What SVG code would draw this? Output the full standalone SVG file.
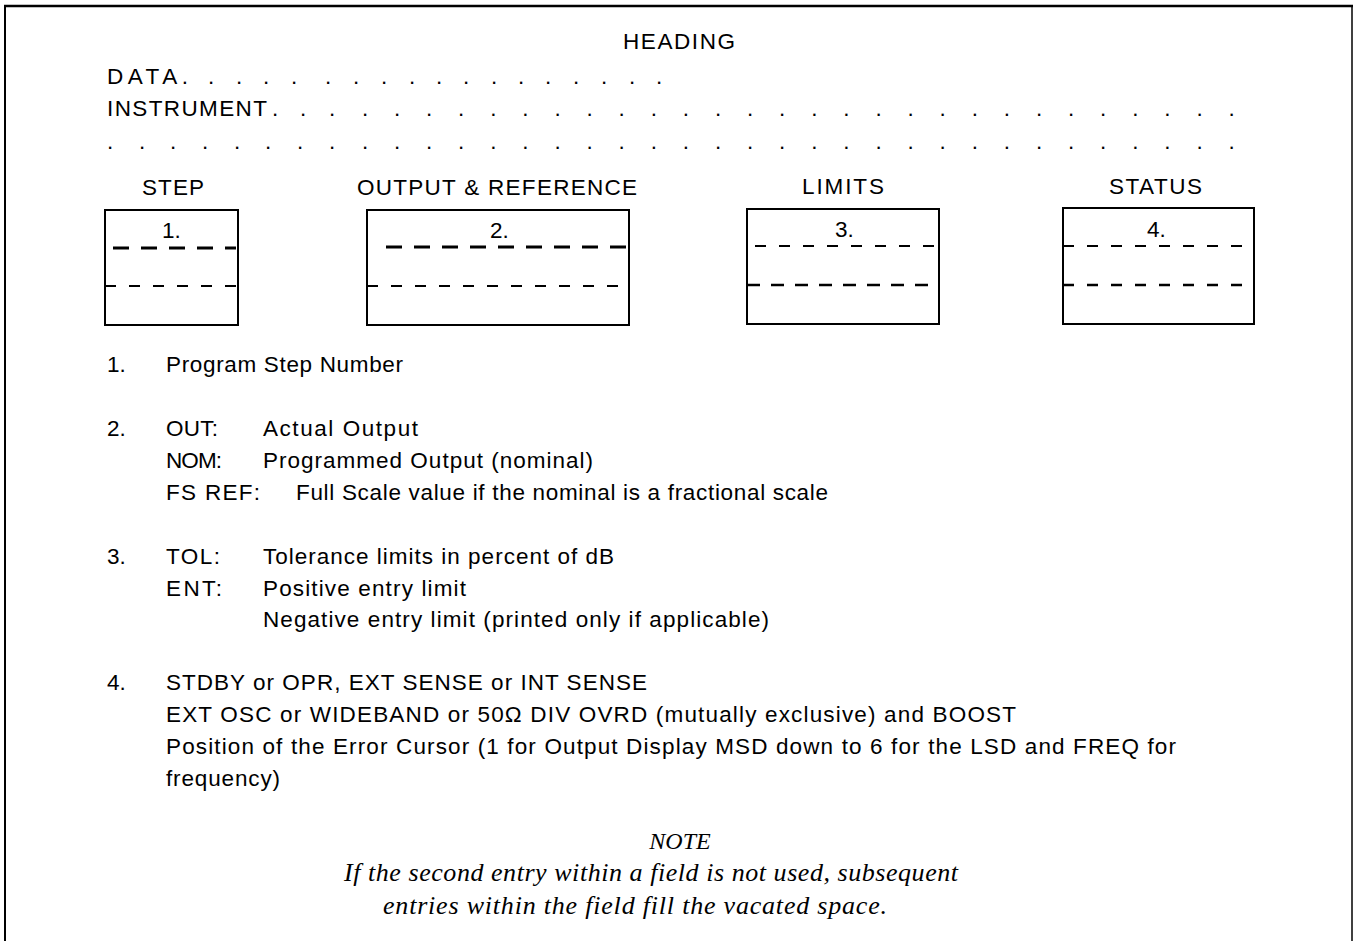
<svg xmlns="http://www.w3.org/2000/svg" width="1354" height="941" viewBox="0 0 1354 941">
<style>
.t{font-family:"Liberation Sans",Arial,sans-serif;font-size:22.5px;fill:#000}
.n{font-family:"Liberation Serif","Times New Roman",serif;font-style:italic;font-size:26px;fill:#000}
.box{fill:none;stroke:#000;stroke-width:2}
.dk{stroke:#000;stroke-width:3;stroke-dasharray:16 12;fill:none}
.dt{stroke:#000;stroke-width:2;stroke-dasharray:11 13;fill:none}
.frame{stroke:#000;fill:none}
</style>
<rect width="1354" height="941" fill="#fff"/>
<g id="frame">
<line class="frame" x1="4" y1="6" x2="1353" y2="6" stroke-width="2.5"/>
<line class="frame" x1="5" y1="5" x2="5" y2="941" stroke-width="2"/>
<line class="frame" x1="1352" y1="5" x2="1352" y2="941" stroke-width="1.5"/>
</g>
<g id="heading">
<text class="t" x="623" y="49" textLength="112">HEADING</text>
<text class="t" x="107" y="84" textLength="81">DATA.</text>
<text class="t" x="208 236 263 291 325 353 381 409 436 463 491 518 545 573 601 629 656" y="84">.................</text>
<text class="t" x="107" y="116" textLength="160">INSTRUMENT</text>
<text class="t" x="272 300 329 362 394 426 458.1 490.2 522.3 554.4 586.5 618.6 650.7 682.8 714.9 747 779.1 811.2 843.3 875.4 907.5 939.6 971.7 1003.8 1035.9 1068 1100.1 1132.2 1164.3 1196.4 1228.5" y="116">...............................</text>
<text class="t" x="107 139 170 202 234 265 297 329 362 394 426 458.1 490.2 522.3 554.4 586.5 618.6 650.7 682.8 714.9 747 779.1 811.2 843.3 875.4 907.5 939.6 971.7 1003.8 1035.9 1068 1100.1 1132.2 1164.3 1196.4 1228.5" y="149">....................................</text>
</g>
<g id="step">
<text class="t" x="142" y="195" textLength="62">STEP</text>
<rect class="box" x="105" y="210" width="133" height="115"/>
<text class="t" x="162" y="238">1.</text>
<line class="dk" x1="113" y1="248" x2="236" y2="248"/>
<line class="dt" x1="105" y1="286" x2="238" y2="286"/>
</g>
<g id="output-reference">
<text class="t" x="357" y="195" textLength="280">OUTPUT &amp; REFERENCE</text>
<rect class="box" x="367" y="210" width="262" height="115"/>
<text class="t" x="490" y="238">2.</text>
<line class="dk" x1="386" y1="247" x2="629" y2="247"/>
<line class="dt" x1="367" y1="286" x2="629" y2="286"/>
</g>
<g id="limits">
<text class="t" x="802" y="194" textLength="82">LIMITS</text>
<rect class="box" x="747" y="209" width="192" height="115"/>
<text class="t" x="835" y="237">3.</text>
<line class="dt" x1="755" y1="246" x2="936" y2="246"/>
<line class="dk" x1="747" y1="285" x2="939" y2="285" style="stroke-width:2.5;stroke-dasharray:13 11"/>
</g>
<g id="status">
<text class="t" x="1109" y="194" textLength="93">STATUS</text>
<rect class="box" x="1063" y="208" width="191" height="116"/>
<text class="t" x="1147" y="237">4.</text>
<line class="dt" x1="1063" y1="246" x2="1254" y2="246"/>
<line class="dt" x1="1063" y1="285" x2="1254" y2="285" style="stroke-width:2.5"/>
</g>
<g id="legend">
<text class="t" x="107" y="372">1.</text>
<text class="t" x="166" y="372" textLength="237">Program Step Number</text>
<text class="t" x="107" y="436">2.</text>
<text class="t" x="166" y="436" textLength="52">OUT:</text>
<text class="t" x="263" y="436" textLength="155">Actual Output</text>
<text class="t" x="166" y="468" textLength="56">NOM:</text>
<text class="t" x="263" y="468" textLength="330">Programmed Output (nominal)</text>
<text class="t" x="166" y="500" textLength="94">FS REF:</text>
<text class="t" x="296" y="500" textLength="532">Full Scale value if the nominal is a fractional scale</text>
<text class="t" x="107" y="564">3.</text>
<text class="t" x="166" y="564" textLength="54">TOL:</text>
<text class="t" x="263" y="564" textLength="351">Tolerance limits in percent of dB</text>
<text class="t" x="166" y="596" textLength="56">ENT:</text>
<text class="t" x="263" y="596" textLength="203">Positive entry limit</text>
<text class="t" x="263" y="627" textLength="506">Negative entry limit (printed only if applicable)</text>
<text class="t" x="107" y="690">4.</text>
<text class="t" x="166" y="690" textLength="481">STDBY or OPR, EXT SENSE or INT SENSE</text>
<text class="t" x="166" y="722" textLength="850">EXT OSC or WIDEBAND or 50Ω DIV OVRD (mutually exclusive) and BOOST</text>
<text class="t" x="166" y="754" textLength="1010">Position of the Error Cursor (1 for Output Display MSD down to 6 for the LSD and FREQ for</text>
<text class="t" x="166" y="786" textLength="114">frequency)</text>
</g>
<g id="note">
<text class="n" x="680" y="849" text-anchor="middle" style="font-size:24px">NOTE</text>
<text class="n" x="344" y="881" textLength="614">If the second entry within a field is not used, subsequent</text>
<text class="n" x="383" y="914" textLength="504">entries within the field fill the vacated space.</text>
</g>
</svg>
